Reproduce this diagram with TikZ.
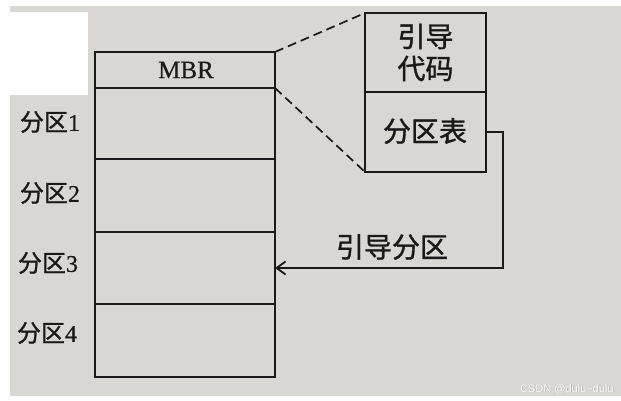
\documentclass[tikz,border=0pt]{standalone}
\usepackage{fontspec}
\setmainfont{Liberation Serif}[FakeBold=0.6]
\newfontfamily\cjk{Noto Sans CJK SC}[FakeBold=1.2]
\newfontfamily\wm{Liberation Sans}
\usetikzlibrary{arrows.meta}
\definecolor{paper}{RGB}{217,215,212}
\definecolor{ink}{RGB}{25,25,25}
\tikzset{
  cell/.style={draw=ink, line width=2.6pt, inner sep=0pt, outer sep=0pt, minimum width=180pt},
  rcell/.style={draw=ink, line width=2.6pt, inner sep=0pt, outer sep=0pt, minimum width=121pt, minimum height=80pt},
  plabel/.style={text=ink, font=\fontsize{24pt}{28pt}\selectfont, inner sep=0pt},
  btext/.style={text=ink, font=\fontsize{28pt}{32pt}\selectfont\cjk, align=center, inner sep=0pt},
  zoomline/.style={draw=ink, line width=1.7pt, dash pattern=on 9pt off 5pt},
  link/.style={draw=ink, line width=1.8pt, -{Straight Barb[length=9pt,width=13pt,line width=1.8pt]}}
}
\begin{document}
\begin{tikzpicture}[x=1pt,y=-1pt]
\useasboundingbox (0,0) rectangle (621,400);
\fill[white] (0,0) rectangle (621,400);
\fill[paper] (10,6) rectangle (621,396);
\fill[white] (10,12) rectangle (88,95);

% column
\node[cell, minimum height=36pt] (mbr) at (185,70) {};
\node[text=ink, font=\fontsize{25pt}{28pt}\selectfont, inner sep=0pt] (mbrtext) at (186,70) {MBR};
\node[cell, minimum height=71pt] (p1) at (185,123.5) {};
\node[cell, minimum height=73pt] (p2) at (185,195.5) {};
\node[cell, minimum height=72pt] (p3) at (185,268) {};
\node[cell, minimum height=73pt] (p4) at (185,340.5) {};

\node[plabel] (l1) at (50,122) {{\cjk 分区}1};
\node[plabel] (l2) at (50,193) {{\cjk 分区}2};
\node[plabel] (l3) at (48,263) {{\cjk 分区}3};
\node[plabel] (l4) at (47,333) {{\cjk 分区}4};

% MBR detail
\node[rcell, minimum height=79pt] (code) at (425.5,52.5) {};
\node[btext] (codetext) at (425.5,52.5) {引导\\代码};
\node[rcell] (table) at (425.5,132) {};
\node[btext] (tabletext) at (425,131) {分区表};

\draw[zoomline] (mbr.north east) -- (code.north west);
\draw[zoomline] (mbr.south east) -- (table.south west);

\coordinate (turn) at (503,132);
\draw[link] (table.east) -- (turn) |- (p3.east);
\node[btext] (boot) at (392,247) {引导分区};

\node[text=gray!70, font=\wm\fontsize{11pt}{13pt}\selectfont, inner sep=0pt] (wm1) at (567.6,389.6) {CSDN @dulu\textasciitilde dulu};
\node[text=white, font=\wm\fontsize{11pt}{13pt}\selectfont, inner sep=0pt] (wm2) at (567,389) {CSDN @dulu\textasciitilde dulu};
\end{tikzpicture}
\end{document}
